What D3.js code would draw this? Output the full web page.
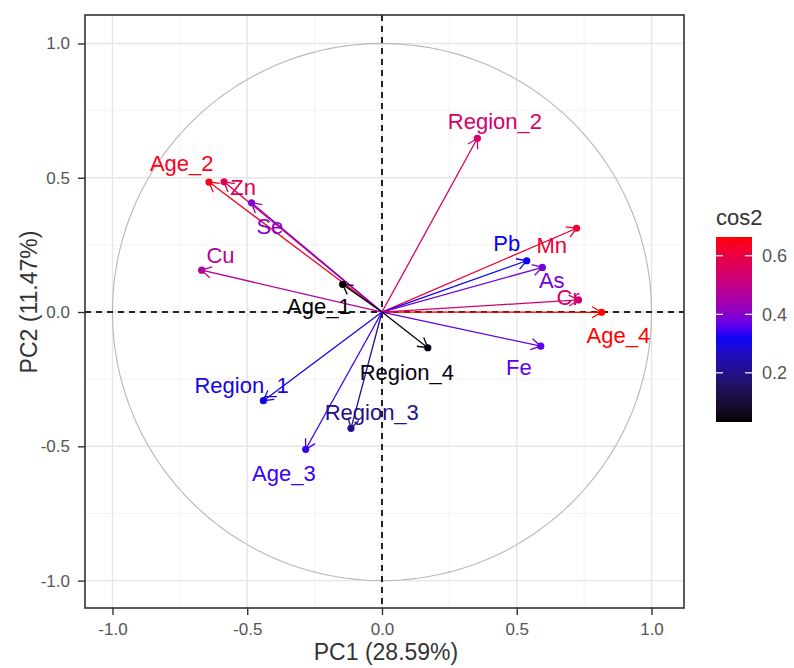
<!DOCTYPE html>
<html><head>
<meta charset="utf-8">
<script src="https://d3js.org/d3.v7.min.js"></script>
<style>
  body { margin: 0; background: #fff; }
  svg text { font-family: "Liberation Sans", Arial, sans-serif; }
</style>
</head>
<body>
<svg id="pca" width="794" height="668"></svg>
<script>
// variables on the correlation circle (PC1, PC2 coordinates)
const varNames = ["Age_2", "Zn", "Se", "Cu", "Age_1", "Region_2", "Mn", "Pb",
                  "As", "Cr", "Age_4", "Fe", "Region_4", "Region_1", "Region_3", "Age_3"];
const pc1 = [-0.642, -0.586, -0.484, -0.669, -0.146, 0.354, 0.722, 0.537,
             0.595, 0.729, 0.815, 0.589, 0.170, -0.440, -0.115, -0.283];
const pc2 = [0.484, 0.485, 0.407, 0.156, 0.103, 0.647, 0.312, 0.191,
             0.166, 0.045, -0.001, -0.127, -0.133, -0.330, -0.433, -0.511];
// where the repelled labels ended up (same data units)
const labelX = [-0.743, -0.515, -0.416, -0.599, -0.234, 0.419, 0.630, 0.463,
                0.630, 0.691, 0.877, 0.508, 0.092, -0.521, -0.038, -0.364];
const labelY = [0.554, 0.467, 0.320, 0.212, 0.022, 0.711, 0.250, 0.256,
                0.119, 0.057, -0.086, -0.204, -0.222, -0.272, -0.371, -0.599];

const axisTicks = [-1.0, -0.5, 0.0, 0.5, 1.0];
const minorTicks = [-0.75, -0.25, 0.25, 0.75];
const legendTicks = [0.2, 0.4, 0.6];
const xTitle = "PC1 (28.59%)";
const yTitle = "PC2 (11.47%)";

const svg = d3.select("svg#pca");
const panel = { left: 85, right: 684, top: 15, bottom: 608 };

const x = d3.scaleLinear().domain([-1.102, 1.1206]).range([panel.left, panel.right]);
const y = d3.scaleLinear().domain([-1.102, 1.106]).range([panel.bottom, panel.top]);

// cos2 on the first two axes = squared coordinates
const data = varNames.map((name, i) => ({
  name: name, x: pc1[i], y: pc2[i], lx: labelX[i], ly: labelY[i],
  cos2: pc1[i] * pc1[i] + pc2[i] * pc2[i]
}));
const cMin = d3.min(data, d => d.cos2);
const cMax = d3.max(data, d => d.cos2);
const color = d3.scaleLinear()
  .domain([cMin, 0.33, cMax])
  .range(["black", "blue", "red"])
  .interpolate(d3.interpolateLab);

// grid
const grid = svg.append("g");
grid.selectAll("line.vminor").data(minorTicks).join("line")
  .attr("x1", d => x(d)).attr("x2", d => x(d))
  .attr("y1", panel.top).attr("y2", panel.bottom)
  .attr("stroke", "#f0f0f0").attr("stroke-width", 0.8);
grid.selectAll("line.hminor").data(minorTicks).join("line")
  .attr("y1", d => y(d)).attr("y2", d => y(d))
  .attr("x1", panel.left).attr("x2", panel.right)
  .attr("stroke", "#f0f0f0").attr("stroke-width", 0.8);
grid.selectAll("line.vmajor").data(axisTicks).join("line")
  .attr("x1", d => x(d)).attr("x2", d => x(d))
  .attr("y1", panel.top).attr("y2", panel.bottom)
  .attr("stroke", "#e6e6e6").attr("stroke-width", 1.4);
grid.selectAll("line.hmajor").data(axisTicks).join("line")
  .attr("y1", d => y(d)).attr("y2", d => y(d))
  .attr("x1", panel.left).attr("x2", panel.right)
  .attr("stroke", "#e6e6e6").attr("stroke-width", 1.4);

// unit circle
const circ = d3.range(0, 361, 2).map(a => [Math.cos(a * Math.PI / 180), Math.sin(a * Math.PI / 180)]);
svg.append("path")
  .attr("d", d3.line().x(d => x(d[0])).y(d => y(d[1]))(circ))
  .attr("fill", "none").attr("stroke", "#b8b8b8").attr("stroke-width", 1.1);

// dashed zero lines
svg.append("line")
  .attr("x1", x(0)).attr("x2", x(0)).attr("y1", panel.top).attr("y2", panel.bottom)
  .attr("stroke", "#222").attr("stroke-width", 2).attr("stroke-dasharray", "6,5");
svg.append("line")
  .attr("y1", y(0)).attr("y2", y(0)).attr("x1", panel.left).attr("x2", panel.right)
  .attr("stroke", "#222").attr("stroke-width", 2).attr("stroke-dasharray", "6,5");

// arrows
const arrows = svg.append("g");
arrows.selectAll("line").data(data).join("line")
  .attr("x1", x(0)).attr("y1", y(0))
  .attr("x2", d => x(d.x)).attr("y2", d => y(d.y))
  .attr("stroke", d => color(d.cos2)).attr("stroke-width", 1.3);

const headLen = 11, headAng = Math.PI / 6;
arrows.selectAll("path").data(data).join("path")
  .attr("d", d => {
    const ex = x(d.x), ey = y(d.y);
    const a = Math.atan2(ey - y(0), ex - x(0));
    const p1 = [ex - headLen * Math.cos(a - headAng), ey - headLen * Math.sin(a - headAng)];
    const p2 = [ex - headLen * Math.cos(a + headAng), ey - headLen * Math.sin(a + headAng)];
    return "M" + p1 + "L" + ex + "," + ey + "L" + p2;
  })
  .attr("fill", "none").attr("stroke", d => color(d.cos2)).attr("stroke-width", 1.3);

svg.append("g").selectAll("circle").data(data).join("circle")
  .attr("cx", d => x(d.x)).attr("cy", d => y(d.y)).attr("r", 3.6)
  .attr("fill", d => color(d.cos2));

// labels
svg.append("g").selectAll("text").data(data).join("text")
  .attr("x", d => x(d.lx)).attr("y", d => y(d.ly))
  .attr("text-anchor", "middle").attr("dy", "0.36em")
  .attr("font-size", 22)
  .attr("fill", d => color(d.cos2))
  .text(d => d.name);

// panel border
svg.append("rect")
  .attr("x", panel.left).attr("y", panel.top)
  .attr("width", panel.right - panel.left).attr("height", panel.bottom - panel.top)
  .attr("fill", "none").attr("stroke", "#333").attr("stroke-width", 1.6);

// axes
const fmt = d => d.toFixed(1);
const xAxis = svg.append("g")
  .attr("transform", "translate(0," + panel.bottom + ")")
  .call(d3.axisBottom(x).tickValues(axisTicks).tickFormat(fmt).tickSize(7).tickPadding(8));
const yAxis = svg.append("g")
  .attr("transform", "translate(" + panel.left + ",0)")
  .call(d3.axisLeft(y).tickValues(axisTicks).tickFormat(fmt).tickSize(7).tickPadding(8));
[xAxis, yAxis].forEach(g => {
  g.select(".domain").remove();
  g.selectAll(".tick line").attr("stroke", "#333").attr("stroke-width", 1.4);
  g.selectAll(".tick text").attr("fill", "#555").attr("font-size", 17)
    .style("font-family", "'Liberation Sans', Arial, sans-serif");
});

svg.append("text")
  .attr("x", 386).attr("y", 660).attr("text-anchor", "middle")
  .attr("font-size", 23).attr("fill", "#333").text(xTitle);
svg.append("text")
  .attr("transform", "translate(37,302) rotate(-90)").attr("text-anchor", "middle")
  .attr("font-size", 23).attr("fill", "#333").text(yTitle);

// colour bar legend
const bar = { x: 716, w: 36, top: 237, bottom: 422 };
const barScale = d3.scaleLinear().domain([cMin, cMax]).range([bar.bottom, bar.top]);
const grad = svg.append("defs").append("linearGradient")
  .attr("id", "cosgrad").attr("x1", 0).attr("y1", 1).attr("x2", 0).attr("y2", 0);
d3.range(0, 1.0001, 0.05).forEach(t => {
  grad.append("stop").attr("offset", t).attr("stop-color", color(cMin + t * (cMax - cMin)));
});
svg.append("rect")
  .attr("x", bar.x).attr("y", bar.top).attr("width", bar.w).attr("height", bar.bottom - bar.top)
  .attr("fill", "url(#cosgrad)");
const lt = svg.append("g").selectAll("g").data(legendTicks).join("g");
lt.append("line")
  .attr("x1", bar.x).attr("x2", bar.x + 7)
  .attr("y1", d => barScale(d)).attr("y2", d => barScale(d))
  .attr("stroke", "#fff").attr("stroke-width", 1.2);
lt.append("line")
  .attr("x1", bar.x + bar.w - 7).attr("x2", bar.x + bar.w)
  .attr("y1", d => barScale(d)).attr("y2", d => barScale(d))
  .attr("stroke", "#fff").attr("stroke-width", 1.2);
lt.append("text")
  .attr("x", bar.x + bar.w + 10).attr("y", d => barScale(d)).attr("dy", "0.36em")
  .attr("font-size", 18).attr("fill", "#555").text(d => d.toFixed(1));
svg.append("text")
  .attr("x", bar.x).attr("y", 225).attr("font-size", 22).attr("fill", "#333").text("cos2");
</script>
</body>
</html>
